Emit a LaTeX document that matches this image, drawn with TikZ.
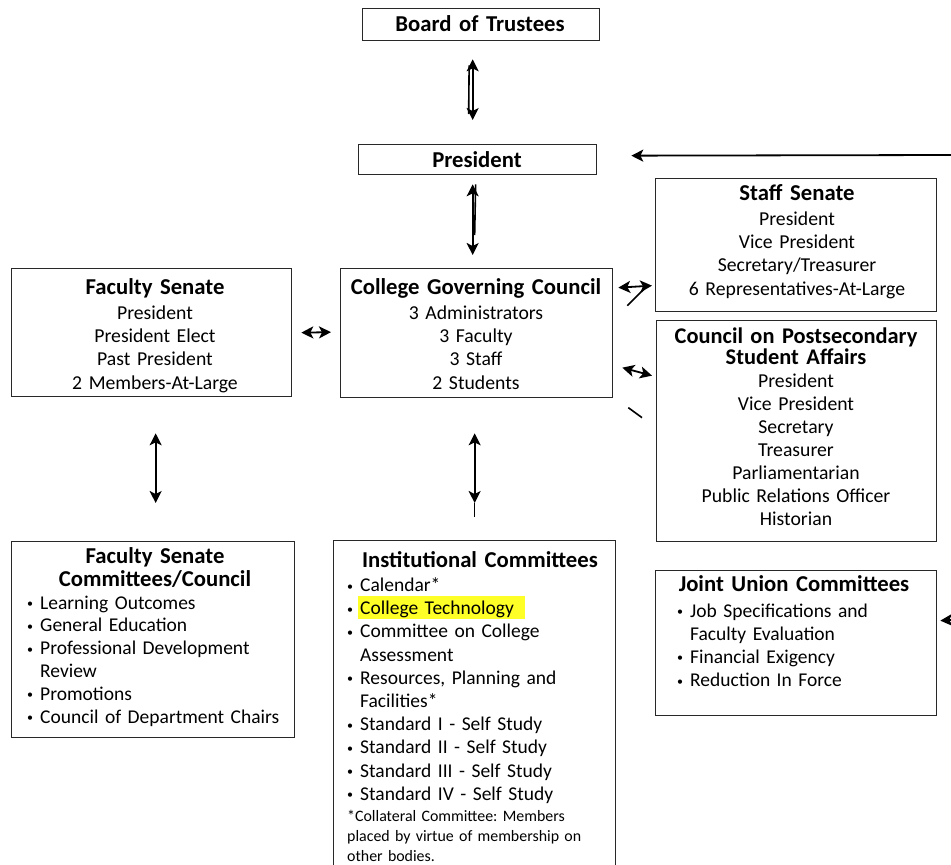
\documentclass[tikz,border=0pt]{standalone}
\usepackage{fontspec}
\setmainfont{Carlito}
\usetikzlibrary{arrows.meta}
\frenchspacing
\definecolor{hl}{RGB}{255,255,40}
\definecolor{bd}{RGB}{40,40,40}
\newcommand\bul{\leavevmode\llap{\raisebox{1.5pt}{\fontsize{12}{12}\selectfont •}\hspace{7pt}}}
\tikzset{
  box/.style={draw=bd, line width=1.3pt, anchor=north west, inner sep=0pt},
  ttl/.style={font=\bfseries\fontsize{22.7}{20}\selectfont, text width=#1, align=center, anchor=base, inner sep=0pt},
  ttl/.default=275pt,
  bod/.style={font=\fontsize{19.7}{23.4}\selectfont, text width=#1, align=center, anchor=base, inner sep=0pt},
  bod/.default=275pt,
  lst/.style={font=\fontsize{19.5}{23.2}\selectfont, text width=#1, align=left, anchor=base west, inner sep=0pt},
  lst/.default=270pt,
  tip/.style={Stealth[length=12pt,width=12pt,inset=3pt]},
  arr/.style={line width=1.8pt, {Stealth[length=12pt,width=12pt,inset=3pt]}-{Stealth[length=12pt,width=12pt,inset=3pt]}},
  one/.style={line width=1.8pt, -{Stealth[length=12pt,width=12pt,inset=3pt]}},
  ln/.style={line width=1.6pt},
}
\begin{document}
\begin{tikzpicture}[x=1pt,y=-1pt]
\useasboundingbox (0,0) rectangle (951,865);
\begin{scope}
\clip (0,0) rectangle (951,865);
% boxes
\node[box, minimum width=237pt, minimum height=32pt] (bot) at (362,8) {};
\node[box, minimum width=238pt, minimum height=30pt] (pres) at (358,144) {};
\node[box, minimum width=281pt, minimum height=133pt] (ss) at (655,178) {};
\node[box, minimum width=280pt, minimum height=128pt] (fs) at (11,268) {};
\node[box, minimum width=272pt, minimum height=129pt] (cgc) at (340,268) {};
\node[box, minimum width=280pt, minimum height=221pt] (cps) at (656,320) {};
\node[box, minimum width=283pt, minimum height=196pt] (fsc) at (11,541) {};
\node[box, minimum width=282pt, minimum height=340pt] (ic) at (333,540) {};
\node[box, minimum width=281pt, minimum height=145pt] (ju) at (655,570) {};
\end{scope}
% titles and bodies
\node[ttl] (botT) at (480,31.5) {Board of Trustees};
\node[ttl] (presT) at (477,167.5) {President};
\node[ttl] (ssT) at (797,200.5) {Staff Senate};
\node[bod] (ssB) at (797,225) {President\\Vice President\\Secretary/Treasurer\\6 Representatives-At-Large};
\node[ttl] (fsT) at (155,294.5) {Faculty Senate};
\node[bod] (fsB) at (155,319) {President\\President Elect\\Past President\\2 Members-At-Large};
\node[ttl] (cgcT) at (476,294.5) {College Governing Council};
\node[bod] (cgcB) at (476,319) {3 Administrators\\3 Faculty\\3 Staff\\2 Students};
\node[ttl, font=\bfseries\fontsize{22.4}{21}\selectfont] (cpsT) at (796,343) {Council on Postsecondary\\Student Affairs};
\node[bod, font=\fontsize{19.7}{23}\selectfont] (cpsB) at (796,387.5) {President\\Vice President\\Secretary\\Treasurer\\Parliamentarian\\Public Relations Officer\\Historian};
\node[ttl, font=\bfseries\fontsize{22.7}{23}\selectfont] (fscT) at (155,563.5) {Faculty Senate\\Committees/Council};
\node[lst, font=\fontsize{19.5}{22.8}\selectfont] (fscL) at (40,609) {\bul Learning Outcomes\\\bul General Education\\\bul Professional Development\\Review\\\bul Promotions\\\bul Council of Department Chairs};
\fill[hl] (358,596) rectangle (525,619);
\node[ttl] (icT) at (480,567) {Institutional Committees};
\node[lst] (icL) at (360,591.5) {\bul Calendar*\\\bul College Technology\\\bul Committee on College\\Assessment\\\bul Resources, Planning and\\Facilities*\\\bul Standard I - Self Study\\\bul Standard II - Self Study\\\bul Standard III - Self Study\\\bul Standard IV - Self Study};
\node[lst, font=\fontsize{15.9}{20}\selectfont] (icF) at (347,821) {*Collateral Committee: Members\\placed by virtue of membership on\\other bodies.};
\node[ttl] (juT) at (794,591.5) {Joint Union Committees};
\node[lst] (juL) at (690,617) {\bul Job Specifications and\\Faculty Evaluation\\\bul Financial Exigency\\\bul Reduction In Force};
% connectors
\draw[arr] ([xshift=-8.5pt,yshift=-18pt]bot.south) -- ([xshift=-5pt,yshift=24pt]pres.north);
\draw[ln] ([xshift=-12pt,yshift=-24pt]bot.south) -- ([xshift=-9pt,yshift=30pt]pres.north);
\draw[arr] ([xshift=-5pt,yshift=-9pt]pres.south) -- ([xshift=-4pt,yshift=13pt]cgc.north);
\draw[ln] ([xshift=-2pt,yshift=-9pt]pres.south) -- ([xshift=-2pt,yshift=33pt]cgc.north);
\coordinate (rin) at (951,155);
\draw[one] (rin) -- ([xshift=34pt,yshift=4pt]pres.east);
\draw[arr] ([xshift=9pt]fs.east) -- ([xshift=-9pt,yshift=1pt]cgc.west);
\draw[arr] ([xshift=5pt,yshift=45.5pt]cgc.east) -- ([xshift=-3pt,yshift=-40.5pt]ss.west);
\draw[ln] ([xshift=14pt,yshift=27.5pt]cgc.east) -- ([xshift=-10pt,yshift=-43pt]ss.west);
\draw[arr] ([xshift=9pt,yshift=-34.5pt]cgc.east) -- ([xshift=-4pt,yshift=55.5pt]cps.west);
\draw[ln] ([xshift=15pt,yshift=-74.5pt]cgc.east) -- ([xshift=-14pt,yshift=13.5pt]cps.west);
\draw[arr] ([xshift=4pt,yshift=-36pt]fs.south) -- ([xshift=2.5pt,yshift=38pt]fsc.north);
\draw[arr] ([xshift=-2pt,yshift=-35pt]cgc.south) -- ([yshift=37pt]ic.north);
\draw[ln] ([yshift=37pt]ic.north) -- ([yshift=23pt]ic.north);
\coordinate (jin) at (951,620);
\draw[one] (jin) -- ([xshift=3pt,yshift=22.5pt]ju.east);
\end{tikzpicture}
\end{document}
